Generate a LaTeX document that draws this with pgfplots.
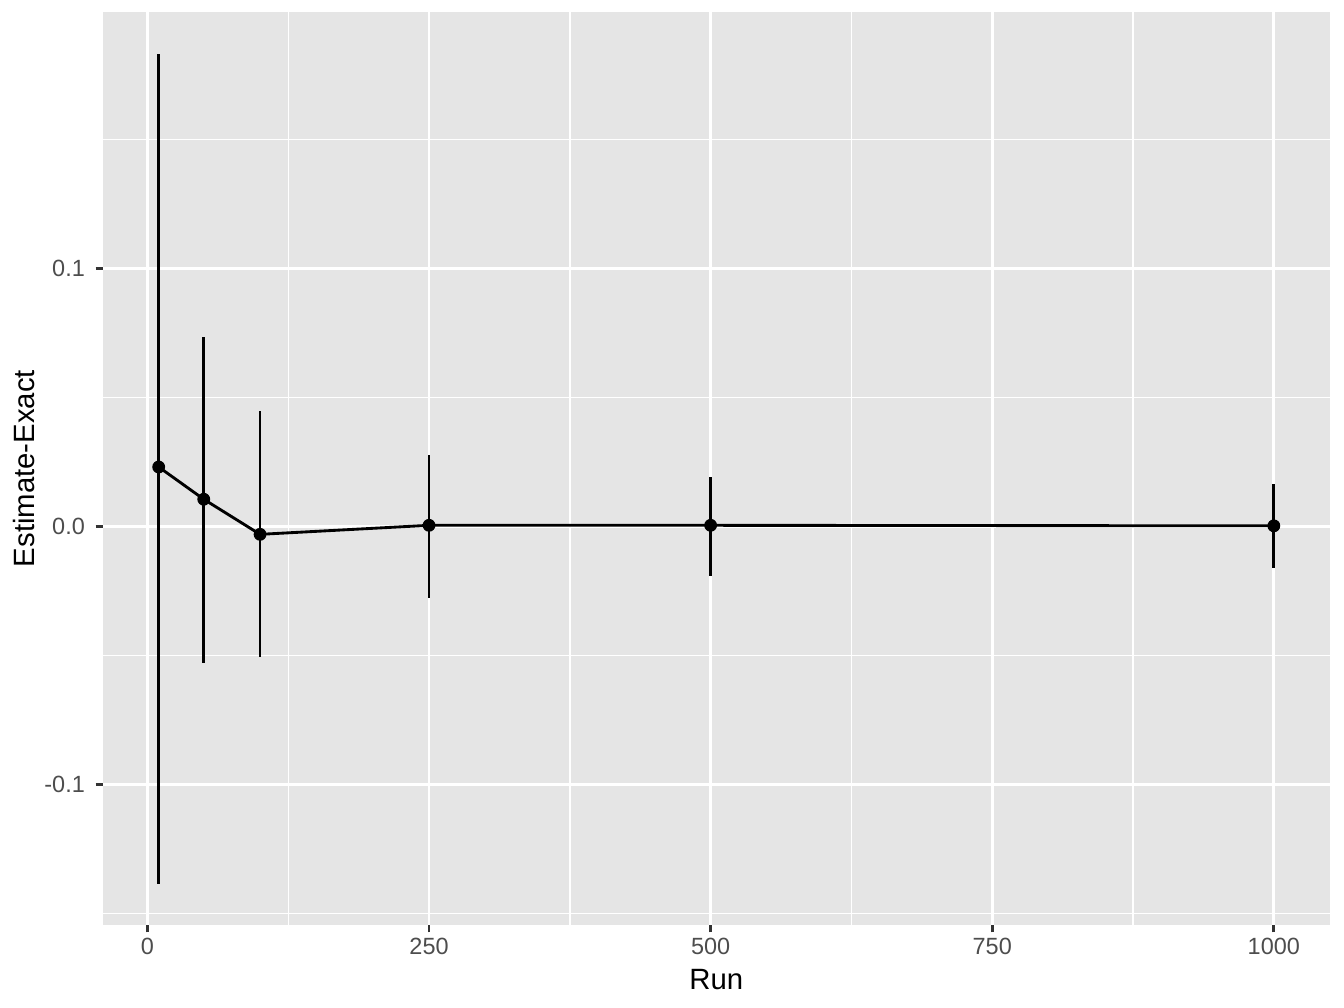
\documentclass[border=0pt]{standalone}
\usepackage{fontspec}
\setmainfont{Liberation Sans}
\usepackage{pgfplots}
\pgfplotsset{compat=1.18}
\definecolor{ggbg}{HTML}{E5E5E5}
\definecolor{grey30}{HTML}{4D4D4D}
\definecolor{grey20}{HTML}{333333}
\begin{document}
\begin{tikzpicture}
\begin{axis}[
  at={(0,0)}, anchor=south west,
  scale only axis,
  width=460pt, height=342.4pt,
  xmin=-39.5, xmax=1049.5,
  ymin=-0.1545, ymax=0.1993,
  axis background/.style={fill=ggbg},
  axis line style={draw=none},
  axis x line*=bottom, axis y line*=left,
  xtick={0,250,500,750,1000},
  xticklabels={0,250,500,750,1000},
  ytick={-0.1,0,0.1},
  yticklabels={-0.1,0.0,0.1},
  minor xtick={125,375,625,875},
  minor ytick={-0.15,-0.05,0.05,0.15},
  grid=both,
  major grid style={white, line width=1.07pt},
  minor grid style={white, line width=0.53pt},
  tick align=outside,
  major tick length=2.75pt,
  minor tick length=0pt,
  every tick/.style={grey20, line width=1.07pt},
  tick label style={font=\fontsize{8.8}{10}\selectfont, text=grey30},
  xticklabel style={yshift=1.5pt},
  yticklabel style={xshift=-0.5pt},
  xlabel={Run}, ylabel={Estimate-Exact},
  label style={font=\fontsize{11}{13}\selectfont},
  xlabel style={at={(axis description cs:0.5,0)}, anchor=north, yshift=-13pt},
  ylabel style={at={(axis description cs:0,0.5)}, anchor=south, yshift=22pt},
  clip=false,
]
\addplot[black, line width=1.07pt, mark=none,
  error bars/.cd, y dir=both, y explicit, error mark=none,
  error bar style={line width=1.07pt, black}]
  coordinates {
  (10,0.0230) += (0,0.1602) -= (0,0.1614)
  (50,0.0105) += (0,0.0628) -= (0,0.0635)
  (100,-0.0031) += (0,0.0479) -= (0,0.0476)
  (250,0.0004) += (0,0.0273) -= (0,0.0281)
  (500,0.0004) += (0,0.0187) -= (0,0.0195)
  (1000,0.0002) += (0,0.0162) -= (0,0.0162)
  };
\addplot[only marks, mark=*, mark size=2.2pt, black]
  coordinates {(10,0.0230) (50,0.0105) (100,-0.0031) (250,0.0004) (500,0.0004) (1000,0.0002)};
\end{axis}
\pgfresetboundingbox
\path (-38.6pt,-31.1pt) rectangle (465.4pt,346.9pt);
\end{tikzpicture}
\end{document}
